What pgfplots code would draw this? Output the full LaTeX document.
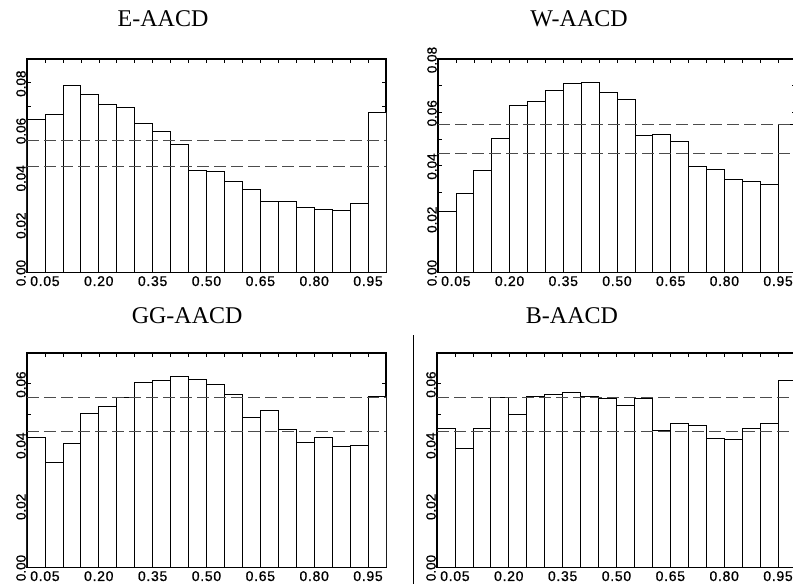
\documentclass[border=0pt]{standalone}
\usepackage{fontspec}
\setmainfont{Liberation Serif}
\setsansfont{Liberation Sans}
\newfontfamily\xticksans[LetterSpace=5, FakeBold=0.8]{Liberation Sans}
\newfontfamily\yticksans[FakeBold=0.8]{Liberation Sans}
\usepackage{pgfplots}
\pgfplotsset{compat=1.18}

\pgfplotsset{
  panel/.style={
    scale only axis,
    width=359pt, height=213pt,
    xmin=0, xmax=1, ymin=0,
    axis line style={line width=1.6pt},
    xtick={0.05,0.2,0.35,0.5,0.65,0.8,0.95},
    minor x tick num=2,
    minor y tick num=1,
    tick align=inside,
    major tick length=4pt, minor tick length=4pt,
    tick style={black, line width=0.6pt},
    scaled ticks=false,
    xticklabel={\xticksans\fontsize{14}{15}\selectfont\pgfmathprintnumber[fixed, fixed zerofill, precision=2, assume math mode=true]{\tick}},
    yticklabel={\yticksans\fontsize{13.5}{15}\selectfont\pgfmathprintnumber[fixed, fixed zerofill, precision=2, assume math mode=true]{\tick}},
    xticklabel style={inner sep=1pt, yshift=-3pt},
    yticklabel style={rotate=90, anchor=south, inner sep=1pt, xshift=-1pt},
    title style={font=\fontsize{24}{24}\selectfont, anchor=base},
  },
  bars/.style={ybar, bar width=0.05, bar shift=0pt, fill=white, draw=black, line width=0.8pt},
  ref/.style={black!70, line width=0.9pt, dash pattern=on 12pt off 5pt},
}

\begin{document}
\begin{tikzpicture}
\path[use as bounding box] (0pt,0pt) rectangle (793pt,-584pt);

% E-AACD
\begin{axis}[panel, at={(27pt,-272pt)}, anchor=south west,
  ymax=0.09, ytick={0,0.02,0.04,0.06,0.08},
  title={E-AACD}, title style={at={(0.379,1)}, yshift=27pt}]
\addplot[bars] coordinates {
  (0.025,0.0644) (0.075,0.0668) (0.125,0.0789) (0.175,0.0751) (0.225,0.0708)
  (0.275,0.0697) (0.325,0.0630) (0.375,0.0596) (0.425,0.0538) (0.475,0.0431)
  (0.525,0.0424) (0.575,0.0382) (0.625,0.0351) (0.675,0.0299) (0.725,0.0297)
  (0.775,0.0275) (0.825,0.0266) (0.875,0.0262) (0.925,0.0290) (0.975,0.0676)};
\addplot[ref] coordinates {(0,0.0554) (1,0.0554)};
\addplot[ref] coordinates {(0,0.0445) (1,0.0445)};
\end{axis}

% W-AACD
\begin{axis}[panel, at={(438pt,-272pt)}, anchor=south west, width=358pt,
  ymax=0.08, ytick={0,0.02,0.04,0.06,0.08},
  title={W-AACD}, title style={at={(0.394,1)}, yshift=27pt}]
\addplot[bars] coordinates {
  (0.025,0.0229) (0.075,0.0296) (0.125,0.0381) (0.175,0.0500) (0.225,0.0626)
  (0.275,0.0639) (0.325,0.0683) (0.375,0.0708) (0.425,0.0713) (0.475,0.0676)
  (0.525,0.0650) (0.575,0.0513) (0.625,0.0518) (0.675,0.0490) (0.725,0.0395)
  (0.775,0.0386) (0.825,0.0349) (0.875,0.0340) (0.925,0.0328) (0.975,0.0554)};
\addplot[ref] coordinates {(0,0.0554) (1,0.0554)};
\addplot[ref] coordinates {(0,0.0445) (1,0.0445)};
\end{axis}

% GG-AACD
\begin{axis}[panel, at={(27pt,-567pt)}, anchor=south west, height=214pt,
  ymax=0.07, ytick={0,0.02,0.04,0.06},
  title={GG-AACD}, title style={at={(0.446,1)}, yshift=24pt}]
\addplot[bars] coordinates {
  (0.025,0.0425) (0.075,0.0341) (0.125,0.0404) (0.175,0.0501) (0.225,0.0524)
  (0.275,0.0555) (0.325,0.0603) (0.375,0.0611) (0.425,0.0624) (0.475,0.0614)
  (0.525,0.0596) (0.575,0.0566) (0.625,0.0488) (0.675,0.0511) (0.725,0.0451)
  (0.775,0.0406) (0.825,0.0423) (0.875,0.0393) (0.925,0.0397) (0.975,0.0559)};
\addplot[ref] coordinates {(0,0.0554) (1,0.0554)};
\addplot[ref] coordinates {(0,0.0445) (1,0.0445)};
\end{axis}

% B-AACD
\begin{axis}[panel, at={(437pt,-567pt)}, anchor=south west, height=214pt,
  ymax=0.07, ytick={0,0.02,0.04,0.06},
  title={B-AACD}, title style={at={(0.376,1)}, yshift=24pt}]
\addplot[bars] coordinates {
  (0.025,0.0454) (0.075,0.0389) (0.125,0.0452) (0.175,0.0556) (0.225,0.0500)
  (0.275,0.0558) (0.325,0.0564) (0.375,0.0572) (0.425,0.0559) (0.475,0.0552)
  (0.525,0.0527) (0.575,0.0553) (0.625,0.0446) (0.675,0.0470) (0.725,0.0462)
  (0.775,0.0422) (0.825,0.0418) (0.875,0.0455) (0.925,0.0470) (0.975,0.0611)};
\addplot[ref] coordinates {(0,0.0554) (1,0.0554)};
\addplot[ref] coordinates {(0,0.0445) (1,0.0445)};
\end{axis}

% stray page rule left of the last panel
\draw[black, line width=0.8pt] (413pt,-335pt) -- (413pt,-584pt);
\end{tikzpicture}
\end{document}
